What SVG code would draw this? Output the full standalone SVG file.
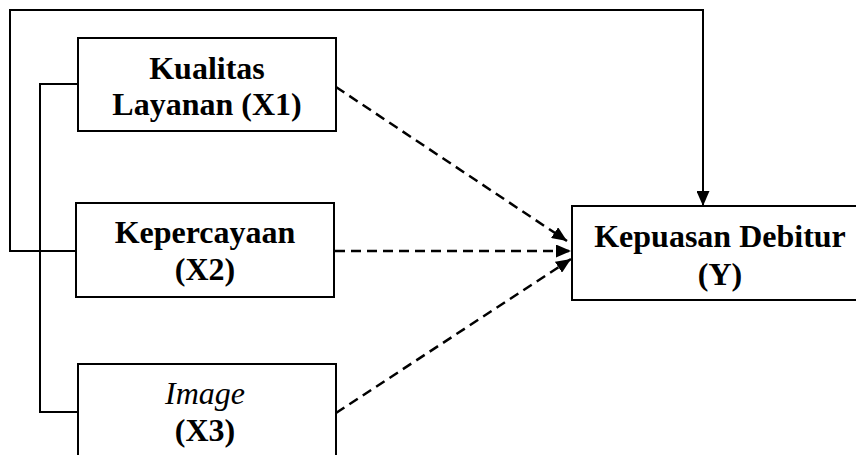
<svg xmlns="http://www.w3.org/2000/svg" width="856" height="455" viewBox="0 0 856 455">
<style>
.box{fill:#fff;stroke:#000;stroke-width:2}
.t{font-family:'Liberation Serif','Times New Roman',serif;font-size:32px;font-weight:bold;text-anchor:middle;fill:#000}
.i{font-style:italic;font-weight:normal}
.ln{fill:none;stroke:#000;stroke-width:2}
.d{fill:none;stroke:#000;stroke-width:2.5;stroke-dasharray:10 6}
</style>
<defs>
<marker id="ah" viewBox="0 0 15 13" refX="15" refY="6.5" markerWidth="15" markerHeight="13" markerUnits="userSpaceOnUse" orient="auto">
<path d="M0,0 L15,6.5 L0,13 Z" fill="#000"/>
</marker>
</defs>
<rect width="856" height="455" fill="#fff"/>
<g id="connectors">
<path class="ln" d="M76,251 H10 V10 H703 V206" marker-end="url(#ah)"/>
<path class="ln" d="M78,84 H40 V412 H78"/>
<line class="d" x1="336" y1="87" x2="567" y2="241" marker-end="url(#ah)"/>
<line class="d" x1="335" y1="251" x2="571" y2="251" marker-end="url(#ah)"/>
<line class="d" x1="336" y1="413" x2="571" y2="259" marker-end="url(#ah)"/>
</g>
<g id="x1">
<rect class="box" x="78" y="38" width="258" height="93"/>
<text class="t" x="207" y="79">Kualitas</text>
<text class="t" x="207" y="115">Layanan (X1)</text>
</g>
<g id="x2">
<rect class="box" x="76" y="203" width="258" height="94"/>
<text class="t" x="205" y="243">Kepercayaan</text>
<text class="t" x="205" y="280">(X2)</text>
</g>
<g id="x3">
<rect class="box" x="78" y="364" width="258" height="100"/>
<text class="t i" x="205" y="404">Image</text>
<text class="t" x="205" y="441">(X3)</text>
</g>
<g id="y">
<rect class="box" x="572" y="206" width="290" height="94"/>
<text class="t" x="720" y="247">Kepuasan Debitur</text>
<text class="t" x="720" y="285">(Y)</text>
</g>
</svg>
